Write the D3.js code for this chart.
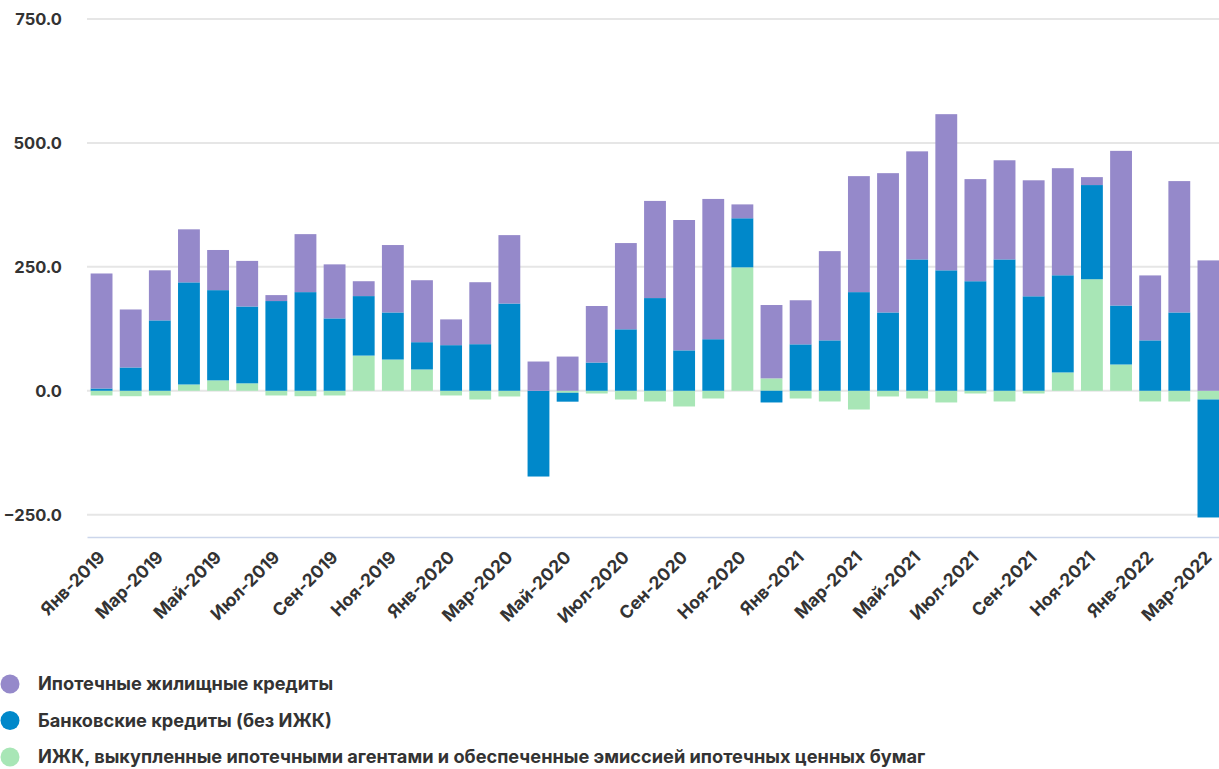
<!DOCTYPE html>
<html>
<head>
<meta charset="utf-8">
<script src="https://cdn.jsdelivr.net/npm/d3@7"></script>
<style>
  body { margin: 0; background: #fff; font-family: "Inter", "Roboto", sans-serif; }
  #viz svg { display: block; }
</style>
</head>
<body>
<div id="viz"></div>
<script>
const width = 1219;
const height = 769;
const margin = {top: 19, right: -4, bottom: 232, left: 87};

const months = [
  'Янв-2019', 'Фев-2019', 'Мар-2019', 'Апр-2019', 'Май-2019', 'Июн-2019',
  'Июл-2019', 'Авг-2019', 'Сен-2019', 'Окт-2019', 'Ноя-2019', 'Дек-2019',
  'Янв-2020', 'Фев-2020', 'Мар-2020', 'Апр-2020', 'Май-2020', 'Июн-2020',
  'Июл-2020', 'Авг-2020', 'Сен-2020', 'Окт-2020', 'Ноя-2020', 'Дек-2020',
  'Янв-2021', 'Фев-2021', 'Мар-2021', 'Апр-2021', 'Май-2021', 'Июн-2021',
  'Июл-2021', 'Авг-2021', 'Сен-2021', 'Окт-2021', 'Ноя-2021', 'Дек-2021',
  'Янв-2022', 'Фев-2022', 'Мар-2022'
];

// ИЖК, выкупленные ипотечными агентами ...
const securitized = [
  -9.5, -11, -9.5, 12.7, 21, 15, -9.5, -11, -9.5, 71, 63, 43,
  -9.5, -17.6, -11.5, 0, -4, -5.5, -17.6, -21.6, -31.7, -15.6, 249, 25,
  -15.6, -21.6, -37.8, -11.5, -15.6, -23.6, -5.5, -21.6, -5.5, 37, 225, 53,
  -21.6, -21.6, -17.6
];

// Банковские кредиты (без ИЖК)
const bankLoans = [
  4.6, 47, 142, 206, 182, 155, 181, 199, 146, 120, 95, 55,
  92, 94, 176, -173, -18, 57, 124, 187, 81.5, 104, 99, -23.6,
  93.6, 101.7, 199, 158, 265, 243, 221, 265, 190.6, 196, 190, 119,
  101.7, 158, -238
];

// Ипотечные жилищные кредиты
const mortgages = [
  232, 117, 101, 107, 81, 92, 12, 117, 109, 30, 136, 125,
  52, 125, 138, 59, 69, 114, 174, 196, 263, 283, 28, 148,
  89, 180, 234, 281, 218, 315, 206, 200, 234, 216, 16, 312,
  131, 265, 263
];

const yTicks = [-250, 0, 250, 500, 750];

const groups = [
  { key: 'mortgages', label: 'Ипотечные жилищные кредиты', color: '#9589CA' },
  { key: 'bankLoans', label: 'Банковские кредиты (без ИЖК)', color: '#0088CA' },
  { key: 'securitized', label: 'ИЖК, выкупленные ипотечными агентами и обеспеченные эмиссией ипотечных ценных бумаг', color: '#A8E6B6' },
];

const data = months.map((m, i) => ({
  month: m,
  securitized: securitized[i],
  bankLoans: bankLoans[i],
  mortgages: mortgages[i]
}));

const scaleColor = d3.scaleOrdinal()
  .domain(groups.map(g => g.key))
  .range(groups.map(g => g.color));

const scaleX = d3.scaleBand()
  .domain(months)
  .range([margin.left, width - margin.right])
  .paddingInner(0.25)
  .paddingOuter(0.125);

const scaleY = d3.scaleLinear()
  .domain([-295, 750])
  .range([height - margin.bottom, margin.top]);

const svg = d3.select('#viz')
  .append('svg')
    .attr('viewBox', [0, 0, width, height])
    .attr('width', width)
    .attr('height', height);

// Gridlines
svg.append('g')
    .attr('class', 'grid')
  .selectAll('line')
  .data(yTicks)
  .join('line')
    .attr('x1', margin.left)
    .attr('x2', width)
    .attr('y1', d => scaleY(d))
    .attr('y2', d => scaleY(d))
    .attr('stroke', '#e6e6e6')
    .attr('stroke-width', 2);

// Y axis labels
const axisLeft = d3.axisLeft(scaleY)
  .tickValues(yTicks)
  .tickFormat(d3.format('.1f'))
  .tickSize(0)
  .tickPadding(0);
svg.append('g')
    .attr('transform', `translate(62,0)`)
    .style('font-family', '"Inter", sans-serif')
    .style('font-size', '16.5px')
    .style('font-weight', 700)
    .call(axisLeft)
    .call(g => g.select('.domain').remove())
    .call(g => g.selectAll('text').attr('fill', '#333').attr('dy', '0.35em'));

// Stack: green first, then blue, then purple; negatives stack downward
const stack = d3.stack()
  .keys(['securitized', 'bankLoans', 'mortgages'])
  .offset(d3.stackOffsetDiverging);
const series = stack(data);

svg.append('g')
    .attr('class', 'bars')
  .selectAll('g')
  .data(series)
  .join('g')
    .attr('fill', d => scaleColor(d.key))
  .selectAll('rect')
  .data(d => d)
  .join('rect')
    .attr('x', d => scaleX(d.data.month))
    .attr('width', scaleX.bandwidth())
    .attr('y', d => scaleY(Math.max(d[0], d[1])))
    .attr('height', d => Math.abs(scaleY(d[0]) - scaleY(d[1])));

// X axis
const axisBottom = d3.axisBottom(scaleX)
  .tickValues(months.filter((m, i) => i % 2 === 0))
  .tickSize(0)
  .tickSizeOuter(0);
svg.append('g')
    .attr('transform', `translate(0,${height - margin.bottom})`)
    .style('font-family', '"Inter", sans-serif')
    .style('font-size', '17.5px')
    .style('font-weight', 700)
    .call(axisBottom)
    .call(g => g.select('.domain').attr('stroke', '#ccd6eb').attr('stroke-width', 1.5))
    .call(g => g.selectAll('text')
      .attr('fill', '#333')
      .attr('text-anchor', 'end')
      .attr('dy', '0.35em')
      .attr('transform', 'translate(-2,15) rotate(-45)'));

// Legend
const legend = svg.append('g')
    .attr('class', 'legend')
  .selectAll('g')
  .data(groups)
  .join('g')
    .attr('transform', (d, i) => `translate(0,${684 + i * 36.5})`);
legend.append('circle')
    .attr('cx', 10)
    .attr('cy', 0)
    .attr('r', 9.5)
    .attr('fill', d => d.color);
legend.append('text')
    .attr('x', 38)
    .attr('y', 0)
    .attr('dy', '0.35em')
    .attr('fill', '#333')
    .style('font-family', '"Inter", sans-serif')
    .style('font-size', '18.2px')
    .style('font-weight', 700)
    .text(d => d.label);
</script>
</body>
</html>
